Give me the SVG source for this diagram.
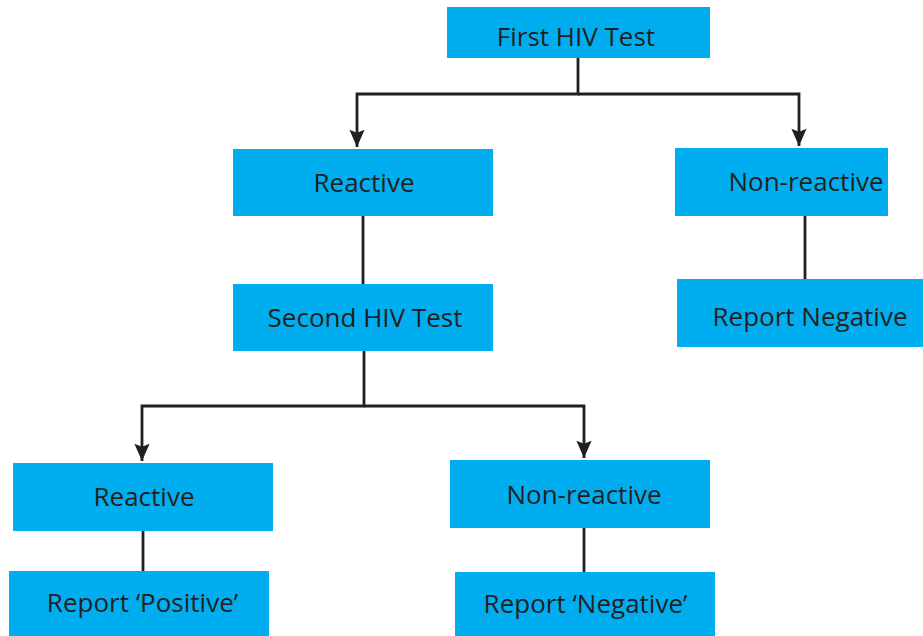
<svg xmlns="http://www.w3.org/2000/svg" width="923" height="636" viewBox="0 0 923 636">
<style>
.box{fill:#00aeef;}
.lbl{font-family:"Open Sans","Noto Sans","Liberation Sans",sans-serif;font-size:26px;font-weight:500;fill:#231f20;text-anchor:middle;}
.con{fill:none;stroke:#231f20;stroke-width:2.8;}
</style>
<defs>
<marker id="arr" markerUnits="userSpaceOnUse" markerWidth="20" markerHeight="20" viewBox="-19 -10 21 20" refX="0" refY="0" orient="auto">
<path d="M0,0 L-18,-8 L-15,0 L-18,8 Z" fill="#231f20"/>
</marker>
</defs>
<rect width="923" height="636" fill="#ffffff"/>
<g id="connectors">
<path class="con" d="M578,58 V94 H357 V147" marker-end="url(#arr)"/>
<path class="con" d="M578,94 H799 V146" marker-end="url(#arr)"/>
<path class="con" d="M805,216 V280"/>
<path class="con" d="M363,216 V284"/>
<path class="con" d="M364,351 V406 H142 V461" marker-end="url(#arr)"/>
<path class="con" d="M364,406 H584 V458" marker-end="url(#arr)"/>
<path class="con" d="M143,531 V572"/>
<path class="con" d="M584,528 V572"/>
</g>
<g id="first-test"><rect class="box" x="447" y="7" width="263" height="51"/><text class="lbl" x="576" y="46">First HIV Test</text></g>
<g id="reactive-1"><rect class="box" x="233" y="149" width="260" height="67"/><text class="lbl" x="364" y="192">Reactive</text></g>
<g id="nonreactive-1"><rect class="box" x="675" y="148" width="213" height="68"/><text class="lbl" x="806" y="191">Non-reactive</text></g>
<g id="report-negative-1"><rect class="box" x="677" y="279" width="246" height="68"/><text class="lbl" x="810" y="326">Report Negative</text></g>
<g id="second-test"><rect class="box" x="233" y="284" width="260" height="67"/><text class="lbl" x="365" y="327">Second HIV Test</text></g>
<g id="reactive-2"><rect class="box" x="13" y="463" width="260" height="68"/><text class="lbl" x="144" y="506">Reactive</text></g>
<g id="report-positive"><rect class="box" x="9" y="571" width="260" height="65"/><text class="lbl" x="142.5" y="612">Report ‘Positive’</text></g>
<g id="nonreactive-2"><rect class="box" x="450" y="460" width="260" height="68"/><text class="lbl" x="584" y="504">Non-reactive</text></g>
<g id="report-negative-2"><rect class="box" x="455" y="572" width="260" height="64"/><text class="lbl" x="585.5" y="613">Report ‘Negative’</text></g>
</svg>
